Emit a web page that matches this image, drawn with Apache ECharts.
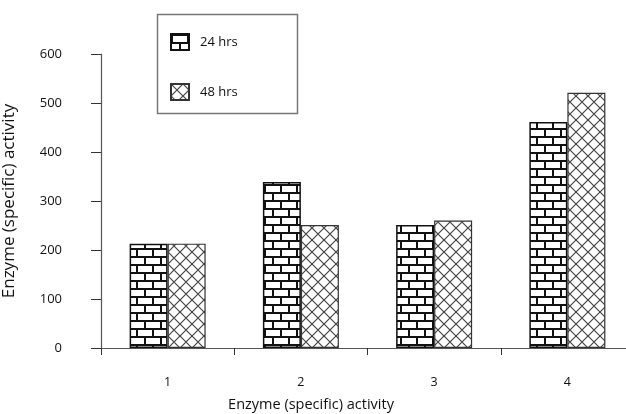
<!DOCTYPE html>
<html>
<head>
<meta charset="utf-8">
<script src="https://cdn.jsdelivr.net/npm/echarts@6/dist/echarts.min.js"></script>
<style>
	html, body { margin: 0; padding: 0; background: #fff; }
	#main { width: 626px; height: 414px; }
</style>
</head>
<body>
<div id="main"></div>
<script>
// 数据
var categories = ['1', '2', '3', '4'];
var hrs24 = [213, 339, 251, 461];
var hrs48 = [213, 251, 260, 521];
var yTicks = [0, 100, 200, 300, 400, 500, 600];

var FONT = '"Open Sans", "DejaVu Sans", sans-serif';

// 砖块图案
function brickPattern () {
	var c = document.createElement('canvas');
	c.width = 16; c.height = 16;
	var ctx = c.getContext('2d');
	ctx.fillStyle = '#fff';
	ctx.fillRect(0, 0, 16, 16);
	ctx.fillStyle = '#111';
	ctx.fillRect(0, 0, 16, 2);
	ctx.fillRect(0, 8, 16, 2);
	ctx.fillRect(0, 0, 2, 8);
	ctx.fillRect(8, 8, 2, 8);
	return c;
}

// 交叉网格图案
function crossPattern () {
	var s = 12;
	var c = document.createElement('canvas');
	c.width = s; c.height = s;
	var ctx = c.getContext('2d');
	ctx.fillStyle = '#fff';
	ctx.fillRect(0, 0, s, s);
	ctx.strokeStyle = '#444';
	ctx.lineWidth = 1.2;
	ctx.beginPath();
	ctx.moveTo(0, 0); ctx.lineTo(s, s);
	ctx.moveTo(s, 0); ctx.lineTo(0, s);
	ctx.stroke();
	return c;
}

var chart = echarts.init(document.getElementById('main'));

chart.setOption({
	backgroundColor: '#fff',
	animation: false,
	grid: {
		left: 101,
		top: 54,
		width: 533,
		height: 294,
		containLabel: false,
		outerBoundsMode: 'none'
	},
	legend: {
		left: 165,
		top: 28,
		orient: 'vertical',
		icon: 'rect',
		itemGap: 32,
		itemWidth: 18,
		itemHeight: 16,
		textStyle: { fontFamily: FONT, fontSize: 13, color: '#111', padding: [0, 0, 0, 6] },
		data: ['24 hrs', '48 hrs']
	},
	graphic: [{
		type: 'rect',
		shape: { x: 157.5, y: 14.5, width: 140, height: 99 },
		style: { fill: 'none', stroke: '#777', lineWidth: 1.5 },
		z: 0
	}, {
		type: 'text',
		x: 311,
		y: 405,
		style: {
			text: 'Enzyme (specific) activity',
			font: '14.5px ' + FONT,
			fill: '#111',
			align: 'center',
			verticalAlign: 'middle'
		}
	}],
	xAxis: {
		type: 'category',
		data: categories,
		axisLine: { lineStyle: { color: '#555', width: 1.2 } },
		axisTick: { show: true, length: 7, lineStyle: { color: '#333' } },
		axisLabel: { margin: 28, fontFamily: FONT, fontSize: 12.5, color: '#111' }
	},
	yAxis: {
		type: 'value',
		min: yTicks[0],
		max: yTicks[yTicks.length - 1],
		interval: 100,
		name: 'Enzyme (specific) activity',
		nameLocation: 'middle',
		nameGap: 83,
		nameTextStyle: { fontFamily: FONT, fontSize: 17, color: '#111' },
		splitLine: { show: false },
		axisLine: { show: true, lineStyle: { color: '#555', width: 1.2 } },
		axisTick: { show: true, length: 10, lineStyle: { color: '#333' } },
		axisLabel: {
			margin: 39,
			fontFamily: FONT,
			fontSize: 13,
			color: '#111',
			verticalAlign: 'middle',
			padding: [0, 0, 8, 0]
		}
	},
	series: [{
		name: '24 hrs',
		type: 'bar',
		data: hrs24,
		barWidth: 38,
		barGap: '0%',
		itemStyle: {
			color: { image: brickPattern(), repeat: 'repeat' },
			borderColor: '#111',
			borderWidth: 1.5
		}
	}, {
		name: '48 hrs',
		type: 'bar',
		data: hrs48,
		barWidth: 38,
		barGap: '0%',
		itemStyle: {
			color: { image: crossPattern(), repeat: 'repeat' },
			borderColor: '#333',
			borderWidth: 1.2
		}
	}]
});
</script>
</body>
</html>
